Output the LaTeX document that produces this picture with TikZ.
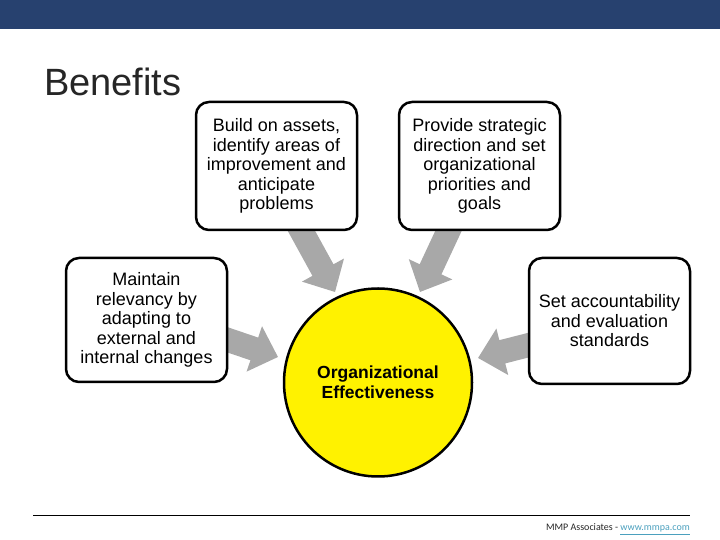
\documentclass[tikz,border=0pt]{standalone}
\usepackage{fontspec}
\setmainfont{Liberation Sans}
\newfontfamily\footfont{Carlito}
\usetikzlibrary{calc}
\definecolor{barblue}{RGB}{39,65,111}
\definecolor{arrowgray}{RGB}{168,168,168}
\definecolor{titlegray}{RGB}{38,38,38}
\definecolor{linkblue}{RGB}{75,160,190}
\newcommand{\garrow}[3]{%
  \fill[arrowgray, shift={#1}, rotate=#2] (0,12) -- ({#3-25},12) -- ({#3-25},24) -- (#3,0) -- ({#3-25},-24) -- ({#3-25},-12) -- (0,-12) -- cycle;}
\tikzset{
  infobox/.style={draw=black, line width=2.5pt, fill=white, rounded corners=13pt,
    minimum width=161pt, align=center, inner sep=0pt,
    font=\fontsize{18}{19.5}\selectfont},
}
\begin{document}
\begin{tikzpicture}[x=1pt,y=1pt]
\useasboundingbox (0,0) rectangle (720,540);
% top bar
\fill[barblue] (0,511) rectangle (720,540);
% title
\node[anchor=base west, inner sep=0pt, text=titlegray, font=\fontsize{38}{40}\selectfont] (title) at (44,444) {Benefits};
% arrows
\garrow{(297.2,316.8)}{-61.2}{78.5}
\garrow{(452.2,317.1)}{-115.0}{76.2}
\garrow{(220.4,202.6)}{-18.8}{60.8}
\garrow{(536.8,197.0)}{194.3}{60.6}
% circle
\node[circle, draw=black, line width=2.5pt, fill=yellow, minimum size=188pt, inner sep=0pt,
  align=center, font=\bfseries\fontsize{17.5}{19.5}\selectfont] (core) at (378,157.5) {Organizational\\Effectiveness};
% boxes
\node[infobox, minimum height=128pt] (b1) at (276.5,374) {Build on assets,\\identify areas of\\improvement and\\anticipate\\problems};
\node[infobox, minimum height=128pt] (b2) at (479.5,374) {Provide strategic\\direction and set\\organizational\\priorities and\\goals};
\node[infobox, minimum height=124pt] (b3) at (146.5,220) {Maintain\\relevancy by\\adapting to\\external and\\internal changes};
\node[infobox, minimum height=126pt] (b4) at (609.5,219) {Set accountability\\and evaluation\\standards};
% footer
\coordinate (fl) at (33,25);
\coordinate (fr) at (690,25);
\draw[line width=0.9pt] (fl) -- (fr);
\node[anchor=base east, inner sep=0pt, font=\footfont\fontsize{10}{12}\selectfont] (foot) at (690,9) {\textcolor{titlegray}{MMP Associates - }\textcolor{linkblue}{\underline{www.mmpa.com}}};
\end{tikzpicture}
\end{document}
